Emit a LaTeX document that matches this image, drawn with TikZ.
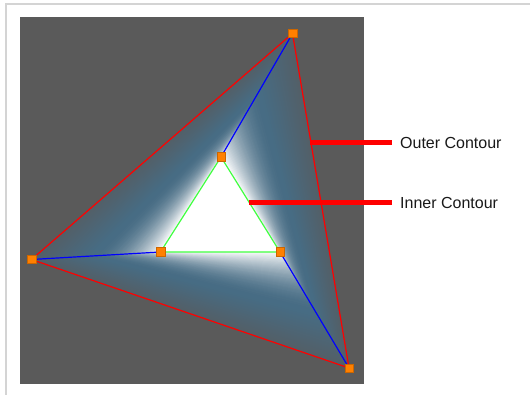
\documentclass[tikz,border=0pt]{standalone}
\usepackage{fontspec}
\setmainfont{Liberation Sans}
\usetikzlibrary{calc}

\definecolor{framegray}{HTML}{D4D4D4}
\definecolor{bgdark}{HTML}{5A5A5A}
\definecolor{edgecol}{HTML}{535F67}
\definecolor{steel}{HTML}{476C84}
\definecolor{vtxorange}{HTML}{FF8000}
\definecolor{cgreen}{HTML}{40FF40}

\tikzset{
  outerline/.style={red, line width=1.2pt},
  innerline/.style={cgreen, line width=1.2pt},
  spoke/.style={blue, line width=1.2pt},
  lblline/.style={red, line width=4.5pt},
  vtxbox/.style={draw=vtxorange!80!black, fill=vtxorange, line width=0.5pt,
    minimum size=8.5pt, inner sep=0pt},
  lbltext/.style={anchor=west, inner sep=0pt, text=black!90,
    font=\fontsize{16}{19}\selectfont}
}

\begin{document}
\begin{tikzpicture}[x=1pt, y=-1pt]
    \useasboundingbox (0,0) rectangle (530,395);
    \fill[white] (0,0) rectangle (530,395);

    % 外框
    \draw[framegray, line width=2pt] (6,395) -- (6,4) -- (530,4);

    % 深灰背景
    \fill[bgdark] (20,17) rectangle (364,384);

    % 外轮廓与内轮廓的顶点
    \coordinate (OT) at (292.5, 33.5);
    \coordinate (OL) at (31.5, 259.5);
    \coordinate (OR) at (349, 368);
    \coordinate (IT) at (221, 157);
    \coordinate (IL) at (160.5, 252);
    \coordinate (IR) at (280, 252);

    % 渐变 (由外向内逐层填充)
    \foreach \i in {0,...,90}{
        \pgfmathsetmacro{\s}{\i/90}
        \pgfmathtruncatemacro{\pa}{min(100,\s/0.45*100)}
        \pgfmathsetmacro{\q}{max(0,(\s-0.45)/0.55)}
        \pgfmathtruncatemacro{\pb}{100*\q*\q}
        \colorlet{fillc}{white!\pb!steel!\pa!edgecol}
        \fill[fillc] ($(OT)!\s!(IT)$) -- ($(OL)!\s!(IL)$) -- ($(OR)!\s!(IR)$) -- cycle;
    }

    % 连接线
    \draw[spoke] (OT) -- (IT);
    \draw[spoke] (OL) -- (IL);
    \draw[spoke] (OR) -- (IR);

    % 轮廓
    \draw[outerline] (OT) -- (OL) -- (OR) -- cycle;
    \draw[innerline] (IT) -- (IL) -- (IR) -- cycle;

    % 顶点
    \foreach \p in {OT,OL,OR,IT,IL,IR}{
        \node[vtxbox] (v\p) at (\p) {};
    }

    % 标注
    \node[lbltext] (outertxt) at (400,142.5) {Outer Contour};
    \node[lbltext] (innertxt) at (400,202.5) {Inner Contour};
    \coordinate (outerpt) at (310,142.5);
    \coordinate (innerpt) at (249,202.5);
    \draw[lblline] (outerpt) -- ([xshift=-8pt]outertxt.west);
    \draw[lblline] (innerpt) -- ([xshift=-8pt]innertxt.west);
\end{tikzpicture}
\end{document}
